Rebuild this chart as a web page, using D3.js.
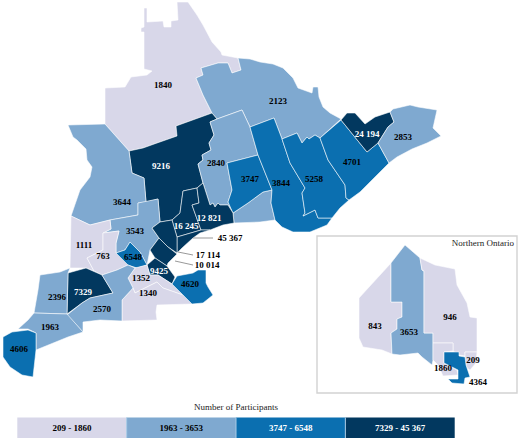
<!DOCTYPE html>
<html><head><meta charset="utf-8">
<script src="https://cdn.jsdelivr.net/npm/d3@7"></script>
<style>html,body{margin:0;background:#fff}svg{display:block}text{font-family:"Liberation Serif","Times New Roman",serif}</style>
</head><body><svg id="c" width="520" height="440"></svg>
<script>
const regionValues=[1840,2123,9216,2840,3747,3844,5258,4701,24194,2853,3644,3543,1111,763,6548,16245,12821,45367,17114,10014,9425,1352,1340,4620,7329,2396,2570,1963,4606,843,3653,946,209,1860,4364];
const legendLabels=["209 - 1860","1963 - 3653","3747 - 6548","7329 - 45 367"];
const classBreaks=[1900,3700,7000];
const classColors=["#d8d7e9","#7fa9d0","#0b6fb0","#02385f"];
const legendTitle="Number of Participants";
const insetTitle="Northern Ontario";
// Region outlines, in the map's own planar coordinate system (same order as regionValues)
const regionShapes=[
[[177,2],[188,2],[197,15],[203,25],[212,42],[221,52],[222,55],[238,58],[241,70],[232,73],[228,63],[218,63],[201,68],[203,75],[196,78],[203,95],[212,113],[176,126],[177,136],[157,143],[143,148],[129,151],[105,124],[105,88],[125,87],[131,77],[147,75],[152,71],[144,69],[144,32],[141,32],[141,28],[144,27],[144,8],[147,8],[147,22],[163,21],[164,27],[171,27],[171,21],[178,20]],
[[201,68],[218,63],[228,63],[232,73],[241,70],[238,58],[250,59],[260,62],[273,64],[283,68],[293,78],[298,88],[312,93],[313,87],[318,87],[319,97],[323,107],[330,113],[341,119],[320,138],[315,135],[309,139],[307,137],[302,143],[297,133],[282,139],[274,118],[250,127],[242,110],[217,119],[212,113],[203,95],[196,78],[203,75]],
[[129,151],[143,148],[157,143],[177,136],[176,126],[212,113],[217,119],[210,122],[214,135],[209,143],[211,150],[202,155],[203,160],[198,164],[203,183],[197,188],[183,191],[180,213],[172,220],[160,222],[158,199],[146,202],[144,178],[132,173]],
[[217,119],[242,110],[250,127],[258,155],[227,163],[232,190],[228,202],[233,213],[248,203],[263,192],[272,190],[271,203],[275,220],[260,222],[234,223],[233,213],[228,205],[220,205],[218,203],[215,207],[213,203],[210,205],[203,183],[198,164],[203,160],[202,155],[211,150],[209,143],[214,135],[210,122]],
[[227,163],[258,155],[272,190],[263,192],[248,203],[233,213],[228,202],[232,190]],
[[250,127],[274,118],[282,139],[290,163],[305,188],[302,193],[305,213],[303,216],[315,210],[318,218],[332,218],[327,225],[310,232],[293,232],[282,227],[275,220],[271,203],[272,190],[258,155]],
[[282,139],[297,133],[302,143],[307,137],[309,139],[315,135],[320,138],[328,160],[345,185],[346,198],[349,200],[340,208],[332,218],[318,218],[315,210],[303,216],[305,213],[302,193],[305,188],[290,163]],
[[320,138],[341,120],[367,152],[378,143],[389,163],[370,182],[360,192],[349,200],[346,198],[345,185],[328,160]],
[[341,120],[347,113],[355,113],[365,124],[375,117],[390,112],[394,122],[388,127],[378,143],[367,152]],
[[390,112],[393,109],[410,105],[418,107],[437,110],[433,128],[441,136],[427,143],[412,149],[397,157],[389,163],[378,143],[388,127],[394,122]],
[[68,125],[105,124],[129,151],[132,173],[144,178],[146,202],[138,203],[138,215],[110,220],[90,225],[71,216],[80,190],[90,177],[92,167],[87,160],[86,149],[77,140],[73,137]],
[[110,220],[138,215],[138,203],[158,199],[160,222],[152,228],[159,238],[150,250],[147,265],[140,252],[130,242],[125,250],[116,253],[116,243],[119,231],[103,233],[111,229]],
[[71,216],[90,225],[110,220],[111,229],[103,233],[103,250],[87,258],[94,271],[86,268],[70,268]],
[[103,233],[119,231],[116,243],[116,253],[128,265],[117,270],[102,275],[94,271],[87,258],[103,250]],
[[116,253],[125,250],[130,242],[140,252],[147,265],[137,268],[128,265]],
[[172,220],[180,213],[183,191],[197,188],[199,203],[192,205],[201,230],[177,237]],
[[197,188],[203,183],[210,205],[213,203],[215,207],[218,203],[220,205],[228,205],[233,213],[234,223],[223,225],[210,230],[201,230],[192,205],[199,203]],
[[177,237],[201,230],[210,230],[200,233],[193,238],[182,248],[177,253]],
[[152,228],[160,222],[172,220],[177,237],[177,253],[168,247],[159,238]],
[[150,250],[159,238],[168,247],[177,254],[168,263],[167,266],[155,258]],
[[147,265],[155,258],[167,266],[175,277],[172,284],[158,275],[150,275]],
[[128,278],[135,268],[147,265],[150,275],[158,275],[172,284],[183,295],[163,288],[157,282],[135,293],[133,288]],
[[122,300],[133,288],[135,293],[157,282],[163,288],[183,295],[192,304],[157,305],[156,312],[157,320],[122,321]],
[[172,284],[177,276],[193,273],[198,270],[206,270],[206,283],[208,287],[213,295],[203,303],[192,304],[183,295]],
[[68,273],[86,268],[102,275],[113,293],[90,298],[82,303],[67,314]],
[[40,275],[60,272],[70,268],[68,273],[67,314],[34,313],[38,290]],
[[102,275],[117,270],[128,265],[135,268],[128,278],[133,288],[122,300],[122,321],[100,320],[83,322],[83,332],[67,315],[82,303],[90,298],[113,293]],
[[34,313],[67,314],[83,332],[68,337],[36,350],[36,333],[28,329],[18,329],[28,320]],
[[3,337],[12,332],[28,330],[36,333],[36,350],[33,377],[22,375],[10,367],[3,357]],
[[391,263],[391,302],[402,302],[402,317],[397,319],[397,329],[391,333],[392,354],[382,350],[363,347],[359,338],[359,298]],
[[405,245],[420,258],[422,270],[424,271],[424,333],[433,333],[433,360],[432,365],[422,357],[418,353],[400,355],[392,354],[391,333],[397,329],[397,319],[402,317],[402,302],[391,302],[391,263]],
[[420,258],[435,265],[455,269],[457,285],[467,303],[470,317],[477,318],[477,352],[465,352],[465,356],[459,355],[453,351],[453,343],[433,343],[433,333],[424,333],[424,271],[422,270]],
[[465,352],[477,352],[476,363],[470,370],[467,368],[466,365],[465,357]],
[[433,343],[453,343],[453,351],[444,352],[444,363],[457,370],[458,375],[443,376],[438,365],[433,360]],
[[444,352],[459,352],[459,356],[465,357],[466,365],[470,377],[465,378],[464,384],[452,383],[448,379],[458,379],[458,370],[444,363]]
];
// Anchor of each region's number (same order), black or white text
const labelAnchors=[[163,85],[278,101],[161,166],[216,163],[250,179],[281,183],[314,179],[352,162],[367,134],[403,137],[122,202],[135,231],[84,245],[103,256],[133,257],[186,226],[209,218],[230,238],[208,255],[207,265],[159,271],[141,278],[148,293],[190,284],[83,292],[57,297],[102,309],[50,327],[19,349],[375,326],[409,332],[450,317],[473,360],[443,368],[478,382]];
const whiteLabels=[9216,16245,12821,9425,7329,24194];
const leaders=[[[193,238],[213,238]],[[178,252],[193,255]],[[175,261],[193,265]]];

const svg=d3.select("#c");
const color=d3.scaleThreshold().domain(classBreaks).range(classColors);
const path=d3.geoPath(d3.geoIdentity());
const fmt=v=>v>=10000?d3.formatLocale({decimal:".",thousands:" ",grouping:[3],currency:["",""]}).format(",")(v):String(v);
const features=regionValues.map((v,i)=>({type:"Feature",properties:{value:v},geometry:{type:"Polygon",coordinates:[[...regionShapes[i],regionShapes[i][0]]]}}));

// inset frame
const frame=d3.geoPath(d3.geoIdentity())({type:"Polygon",coordinates:[[[317,236],[517,236],[517,393],[317,393],[317,236]]]});
svg.append("path").attr("d",frame).attr("fill","#fff").attr("stroke","#d2d2d2").attr("stroke-width",1.4);
svg.append("text").attr("x",514).attr("y",246).attr("text-anchor","end").attr("font-size",9).attr("fill","#222").text(insetTitle);

svg.append("g").selectAll("path").data(features).join("path")
 .attr("d",path).attr("fill",d=>color(d.properties.value)).attr("stroke","#fff").attr("stroke-opacity",.8).attr("stroke-width",.7).attr("stroke-linejoin","round");

svg.append("g").selectAll("path").data(leaders).join("path")
 .attr("d",d3.line()).attr("fill","none").attr("stroke","#999").attr("stroke-width",1);

svg.append("g").selectAll("text").data(regionValues).join("text")
 .attr("x",(d,i)=>labelAnchors[i][0]).attr("y",(d,i)=>labelAnchors[i][1]+3)
 .attr("text-anchor","middle").attr("font-size",9).attr("font-weight","bold")
 .attr("fill",d=>whiteLabels.includes(d)?"#fff":"#000").text(fmt);

// legend
const lx=d3.scaleBand().domain(legendLabels).range([17.3,454.7]);
svg.append("text").attr("x",236).attr("y",410).attr("text-anchor","middle").attr("font-size",9).attr("fill","#222").text(legendTitle);
const lg=svg.append("g").selectAll("g").data(legendLabels).join("g");
lg.append("rect").attr("x",d=>lx(d)).attr("y",417.5).attr("width",lx.bandwidth()).attr("height",20.5).attr("fill",(d,i)=>classColors[i]);
lg.filter((d,i)=>i>0).append("rect").attr("x",d=>lx(d)-.5).attr("y",417.5).attr("width",1).attr("height",20.5).attr("fill","#a8cbe6");
lg.append("text").attr("x",d=>lx(d)+lx.bandwidth()/2).attr("y",431).attr("text-anchor","middle").attr("font-size",9).attr("font-weight","bold")
 .attr("fill",(d,i)=>i<2?"#000":"#fff").text(d=>d);
</script></body></html>
